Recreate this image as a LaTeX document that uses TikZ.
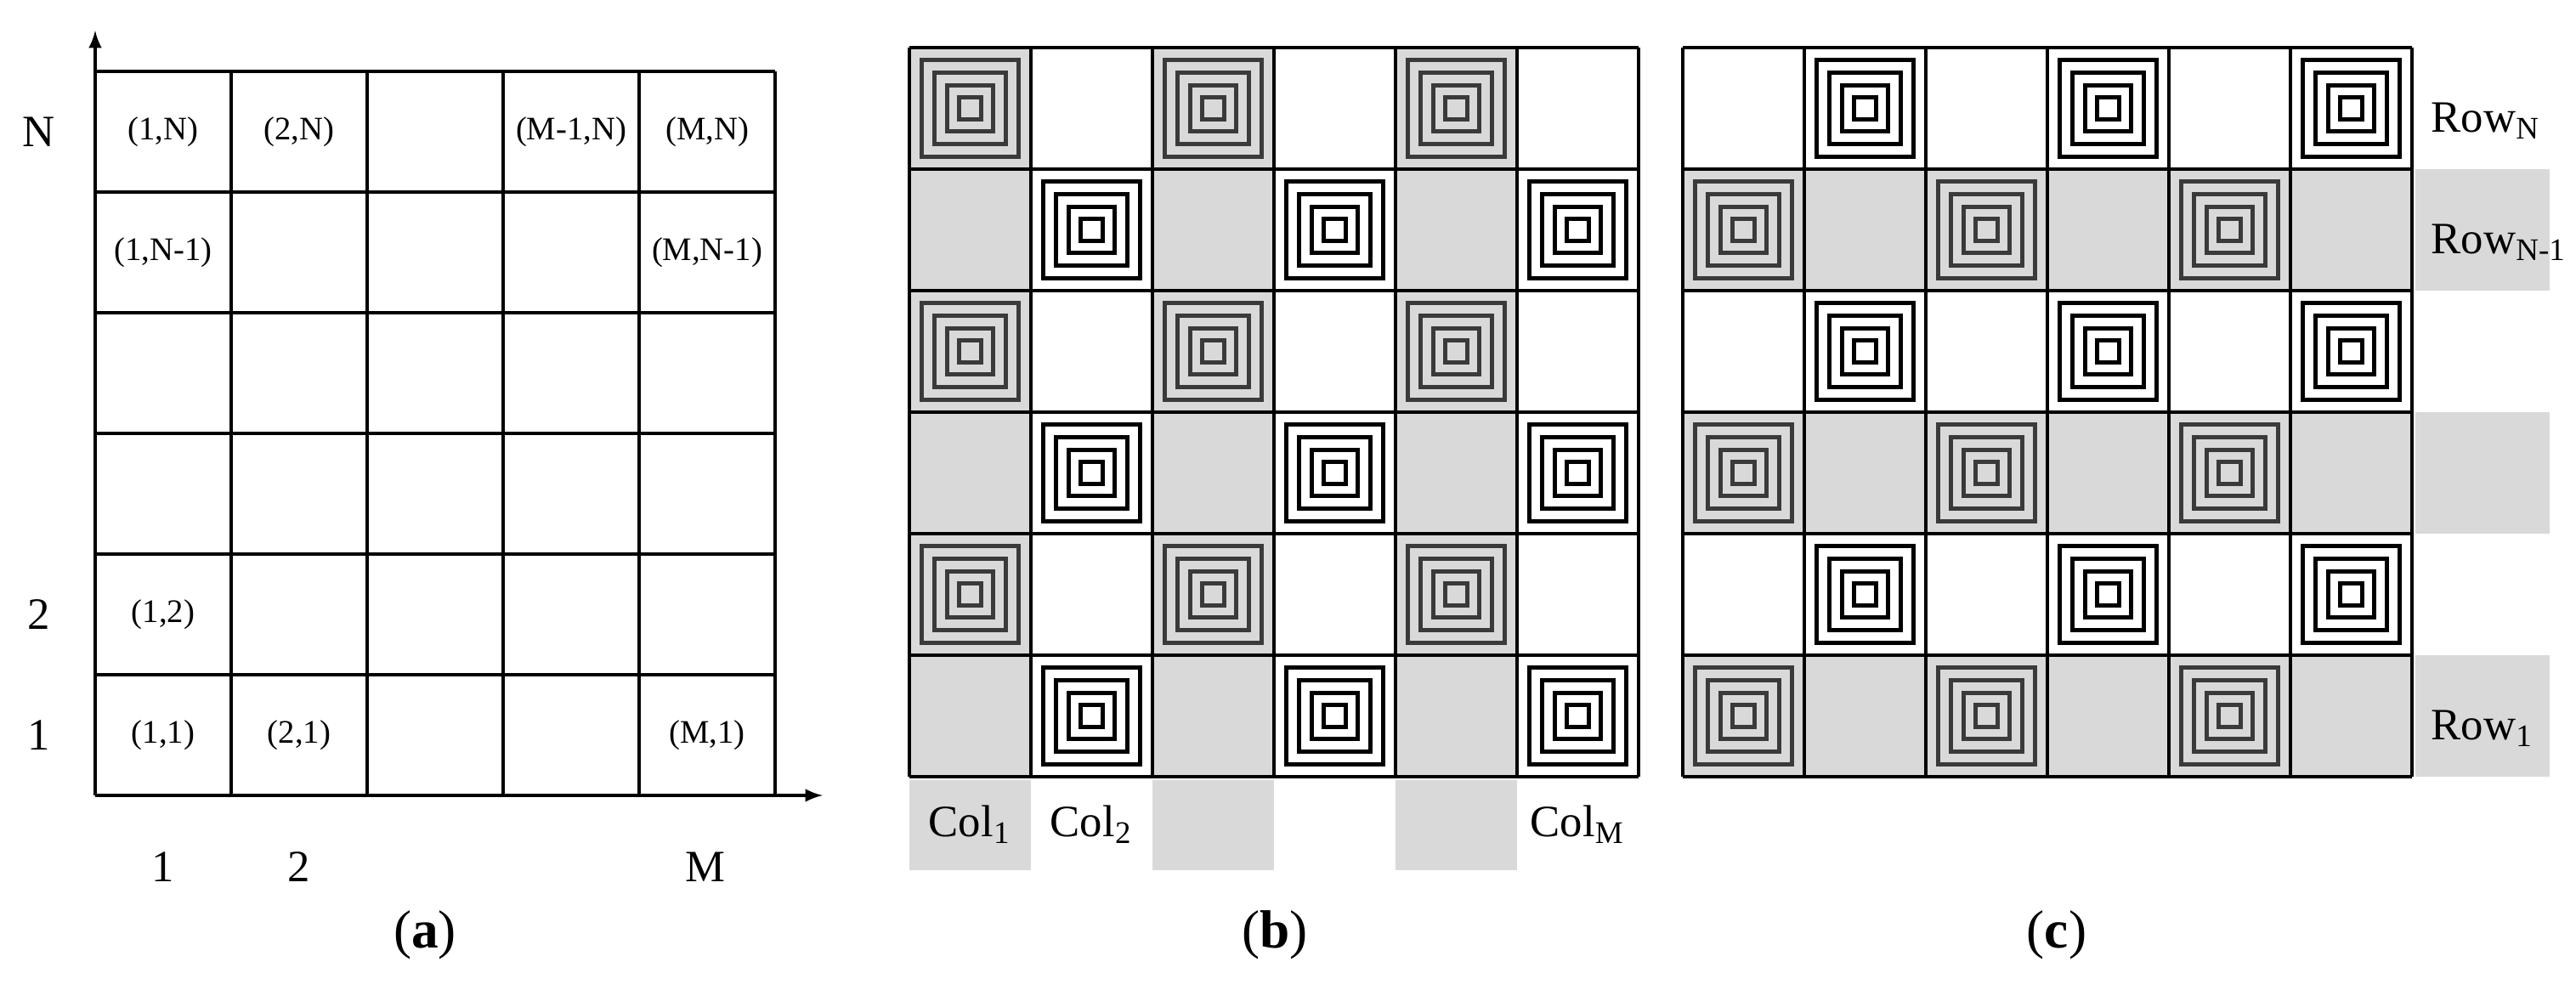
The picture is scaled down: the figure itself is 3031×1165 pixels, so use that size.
\documentclass[tikz,border=0pt]{standalone}
\usepackage{fontspec}
\setmainfont{Liberation Serif}
\begin{document}
\begin{tikzpicture}[x=0.01cm,y=-0.01cm,
  grid/.style={line width=1pt},
  lab/.style={font=\fontsize{11}{13}\selectfont},
  big/.style={font=\fontsize{15}{18}\selectfont},
  captxt/.style={font=\fontsize{18}{22}\selectfont}]
\definecolor{sg}{HTML}{D9D9D9}
\definecolor{sl}{HTML}{3A3A3A}
\useasboundingbox (0,0) rectangle (3031,1165);
% ---------- (a)
\draw[grid,-latex] (112,936) -- (112,36);
\draw[grid,-latex] (112,936) -- (968,936);
\foreach \i in {0,...,5} \draw[grid] (112+160*\i,84) -- (112+160*\i,936);
\foreach \j in {0,...,6} \draw[grid] (112,84+142*\j) -- (912,84+142*\j);
\node[lab] (a1) at (192,155) {(1,N)};
\node[lab] (a2) at (352,155) {(2,N)};
\node[lab] (a3) at (672,155) {(M-1,N)};
\node[lab] (a4) at (832,155) {(M,N)};
\node[lab] (a5) at (192,297) {(1,N-1)};
\node[lab] (a6) at (832,297) {(M,N-1)};
\node[lab] (a7) at (192,723) {(1,2)};
\node[lab] (a8) at (192,865) {(1,1)};
\node[lab] (a9) at (352,865) {(2,1)};
\node[lab] (a10) at (832,865) {(M,1)};
\node[big] (yN) at (46,155) {N};
\node[big] (y2) at (46,723) {2};
\node[big] (y1) at (46,865) {1};
\node[big] (x1) at (192,1020) {1};
\node[big] (x2) at (352,1020) {2};
\node[big] (xM) at (830,1020) {M};
\node[captxt] (ca) at (500,1100) {(\textbf{a})};
% ---------- (b)
\foreach \i in {0,...,5}{
  \foreach \j in {0,...,5}{
    \pgfmathsetmacro{\cx}{1070+143*\i+71.5}
    \pgfmathsetmacro{\cy}{56+143*\j+71.5}
    \pgfmathtruncatemacro{\g}{mod(\i,2)}
    \pgfmathtruncatemacro{\s}{mod(\i+\j,2)}
    \ifnum\g=0 \fill[sg] (\cx-71.5,\cy-71.5) rectangle (\cx+71.5,\cy+71.5);\fi
    \ifnum\s=0
      \ifnum\g=0 \def\sc{sl}\else\def\sc{black}\fi
      \foreach \r in {57,42,27,13} \draw[line width=1.4pt,\sc] (\cx-\r,\cy-\r) rectangle (\cx+\r,\cy+\r);
    \fi
  }}
\foreach \i in {0,...,6} \draw[grid] (1070+143*\i,56) -- (1070+143*\i,914);
\foreach \j in {0,...,6} \draw[grid] (1070,56+143*\j) -- (1928,56+143*\j);
\foreach \i in {0,2,4} \fill[sg] (1070+143*\i,918) rectangle (1213+143*\i,1024);
\node[big] (c1) at (1141,970) {Col\textsubscript{1}};
\node[big] (c2) at (1284,970) {Col\textsubscript{2}};
\node[big] (cM) at (1856,970) {Col\textsubscript{M}};
\node[captxt] (cb) at (1500,1100) {(\textbf{b})};
% ---------- (c)
\foreach \i in {0,...,5}{
  \foreach \j in {0,...,5}{
    \pgfmathsetmacro{\cx}{1980+143*\i+71.5}
    \pgfmathsetmacro{\cy}{56+143*\j+71.5}
    \pgfmathtruncatemacro{\g}{mod(\j,2)}
    \pgfmathtruncatemacro{\s}{mod(\i+\j,2)}
    \ifnum\g=1 \fill[sg] (\cx-71.5,\cy-71.5) rectangle (\cx+71.5,\cy+71.5);\fi
    \ifnum\s=1
      \ifnum\g=1 \def\sc{sl}\else\def\sc{black}\fi
      \foreach \r in {57,42,27,13} \draw[line width=1.4pt,\sc] (\cx-\r,\cy-\r) rectangle (\cx+\r,\cy+\r);
    \fi
  }}
\foreach \i in {0,...,6} \draw[grid] (1980+143*\i,56) -- (1980+143*\i,914);
\foreach \j in {0,...,6} \draw[grid] (1980,56+143*\j) -- (2838,56+143*\j);
\foreach \j in {1,3,5} \fill[sg] (2842,56+143*\j) rectangle (3000,199+143*\j);
\node[big,anchor=west,inner sep=0pt] (rN) at (2860,142) {Row\textsubscript{N}};
\node[big,anchor=west,inner sep=0pt] (rN1) at (2860,285) {Row\textsubscript{N-1}};
\node[big,anchor=west,inner sep=0pt] (r1) at (2860,857) {Row\textsubscript{1}};
\node[captxt] (cc) at (2420,1100) {(\textbf{c})};
\end{tikzpicture}
\end{document}
